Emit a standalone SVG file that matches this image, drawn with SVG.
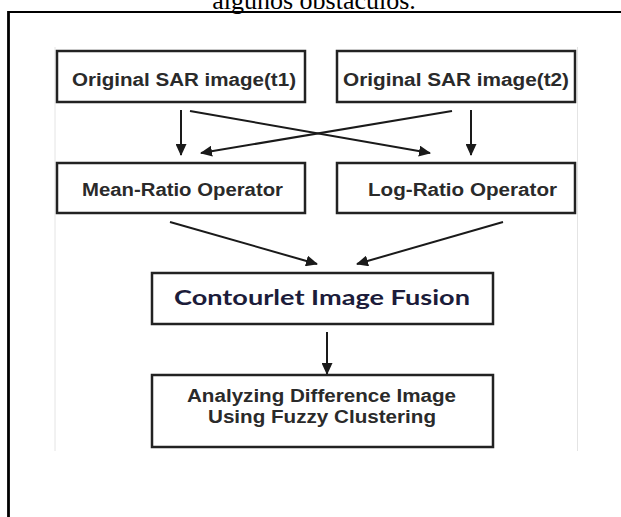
<svg xmlns="http://www.w3.org/2000/svg" width="621" height="517" viewBox="0 0 621 517">
  <style>
    .box { fill: #ffffff; stroke: #222222; stroke-width: 2.5; }
    .lbl { font-family: "Liberation Sans", Arial, sans-serif; font-weight: bold; font-size: 18px; fill: #2a2a2a; text-anchor: middle; }
    .lbl2 { font-family: Lato, "Open Sans", sans-serif; font-weight: bold; font-size: 20px; fill: #1c1c3a; text-anchor: middle; }
    .conn { stroke: #1a1a1a; stroke-width: 2; fill: none; marker-end: url(#ah); }
    .faint { stroke: #e4e4e4; stroke-width: 1; }
  </style>
  <defs>
    <marker id="ah" markerUnits="userSpaceOnUse" markerWidth="12" markerHeight="11" refX="11" refY="5.5" orient="auto">
      <path d="M0,0 L12,5.5 L0,11 z" fill="#1a1a1a"/>
    </marker>
  </defs>
  <rect x="0" y="0" width="621" height="517" fill="#ffffff"/>
  <text x="314" y="8.5" font-family="Liberation Serif, 'Times New Roman', serif" font-size="26" text-anchor="middle" fill="#000000">algunos obstáculos.</text>
  <g id="frame">
    <line x1="8.5" y1="12" x2="621" y2="12" stroke="#000000" stroke-width="1.8"/>
    <line x1="8.5" y1="11" x2="8.5" y2="517" stroke="#000000" stroke-width="2.8"/>
    <line class="faint" x1="55" y1="47" x2="55" y2="451"/>
    <line class="faint" x1="577.5" y1="47" x2="577.5" y2="451"/>
  </g>
  <g id="connectors">
    <line class="conn" x1="181" y1="110" x2="181" y2="155"/>
    <line class="conn" x1="190" y1="111" x2="430" y2="153"/>
    <line class="conn" x1="452" y1="111" x2="201" y2="153"/>
    <line class="conn" x1="471" y1="110" x2="471" y2="155"/>
    <line class="conn" x1="170" y1="222" x2="317" y2="264"/>
    <line class="conn" x1="503" y1="222" x2="357" y2="264"/>
    <line class="conn" x1="327" y1="332" x2="327" y2="374"/>
  </g>
  <g id="sar-t1">
    <rect class="box" x="57" y="51" width="248" height="51"/>
    <text class="lbl" x="184" y="86" textLength="224" lengthAdjust="spacingAndGlyphs">Original SAR image(t1)</text>
  </g>
  <g id="sar-t2">
    <rect class="box" x="337" y="51" width="238" height="51"/>
    <text class="lbl" x="456" y="86" textLength="226" lengthAdjust="spacingAndGlyphs">Original SAR image(t2)</text>
  </g>
  <g id="mean-ratio">
    <rect class="box" x="57" y="163" width="248" height="50"/>
    <text class="lbl" x="182.5" y="196" textLength="201" lengthAdjust="spacingAndGlyphs">Mean-Ratio Operator</text>
  </g>
  <g id="log-ratio">
    <rect class="box" x="337" y="163" width="238" height="50"/>
    <text class="lbl" x="462.5" y="196" textLength="189" lengthAdjust="spacingAndGlyphs">Log-Ratio Operator</text>
  </g>
  <g id="fusion">
    <rect class="box" x="152" y="273" width="341" height="51"/>
    <text class="lbl2" x="322" y="305" textLength="296" lengthAdjust="spacingAndGlyphs">Contourlet Image Fusion</text>
  </g>
  <g id="fuzzy">
    <rect class="box" x="152" y="375" width="341" height="72"/>
    <text class="lbl" x="321.5" y="402" textLength="269" lengthAdjust="spacingAndGlyphs">Analyzing Difference Image</text>
    <text class="lbl" x="322" y="423" textLength="228" lengthAdjust="spacingAndGlyphs">Using Fuzzy Clustering</text>
  </g>
</svg>
